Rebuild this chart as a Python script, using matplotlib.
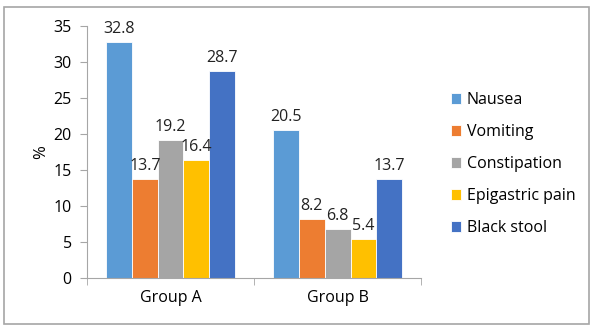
import numpy as np
import matplotlib.pyplot as plt
from matplotlib.patches import Rectangle

# data
groups = ['Group A', 'Group B']
symptoms = ['Nausea', 'Vomiting', 'Constipation', 'Epigastric pain', 'Black stool']
nausea = [32.8, 20.5]
vomiting = [13.7, 8.2]
constipation = [19.2, 6.8]
epigastric = [16.4, 5.4]
black_stool = [28.7, 13.7]
series = [nausea, vomiting, constipation, epigastric, black_stool]
colors = ['#5B9BD5', '#ED7D31', '#A5A5A5', '#FFC000', '#4472C4']

plt.rcParams['font.family'] = ['Open Sans', 'DejaVu Sans']

fig = plt.figure(figsize=(6, 3.34), dpi=100)
ax = fig.add_axes([0.145, 0.168, 0.557, 0.754])

# figure border
fig.patches.append(Rectangle((0.006, 0.03), 0.976, 0.95, transform=fig.transFigure,
                             fill=False, edgecolor='#A6A6A6', linewidth=1.2))

x = np.arange(len(groups))
width = 0.154
for i, (vals, name, col) in enumerate(zip(series, symptoms, colors)):
    pos = x + (i - 2) * width
    ax.bar(pos, vals, width, color=col, label=name, edgecolor='white', linewidth=0.6)
    for p, v in zip(pos, vals):
        ax.text(p, v + 0.7, f'{v}', ha='center', va='bottom', fontsize=11.5, color='#222222')

ax.set_xlim(-0.5, 1.5)
ax.set_ylim(0, 35)
ax.set_yticks(np.arange(0, 36, 5))
ax.set_xticks(x)
ax.set_xticklabels(groups, fontsize=11.5)
ax.set_xticks([-0.5, 0.5, 1.5], minor=True)
ax.tick_params(axis='x', which='major', length=0, pad=9)
ax.tick_params(axis='x', which='minor', length=5, color='#A6A6A6')
ax.tick_params(axis='y', length=5, color='#A6A6A6', labelsize=11.5, pad=6)
ax.set_ylabel('%', fontsize=12, labelpad=3)

for s in ['top', 'right']:
    ax.spines[s].set_visible(False)
for s in ['left', 'bottom']:
    ax.spines[s].set_color('#A6A6A6')

ax.legend(loc='center left', bbox_to_anchor=(1.045, 0.452), frameon=False,
          fontsize=11.5, handlelength=0.65, handleheight=0.65, handletextpad=0.35,
          labelspacing=1.0)

fig.savefig('out.png', dpi=100)
